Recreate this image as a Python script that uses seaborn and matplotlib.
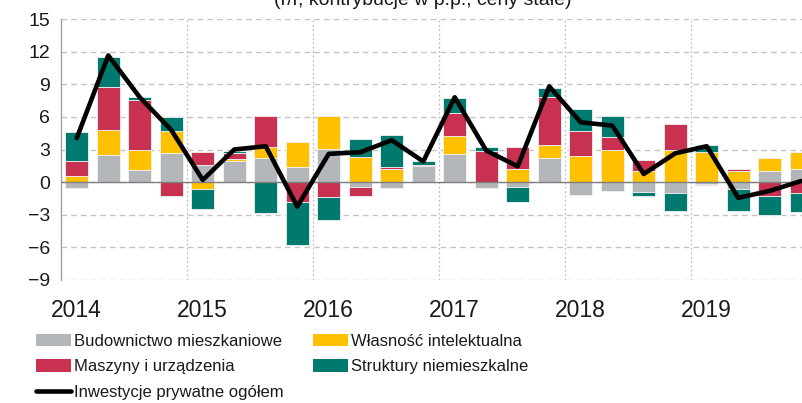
import numpy as np
import matplotlib
matplotlib.use('Agg')
import matplotlib.pyplot as plt
import seaborn as sns
from matplotlib.patches import Patch
from matplotlib.lines import Line2D
from matplotlib.font_manager import FontProperties

# --- Data ---
quarters = [f'{y}Q{q}' for y in range(2014, 2020) for q in range(1, 5)]
years = ['2014', '2015', '2016', '2017', '2018', '2019']

budownictwo = [-0.5, 2.45, 1.15, 2.65, 1.55, 1.95, 2.2, 1.4, 3.05, -0.45, -0.55, 1.45,
               2.6, -0.5, -0.45, 2.2, -1.15, -0.8, -0.95, -1.0, -0.2, -0.65, 1.0, 1.2]
wlasnosc = [0.6, 2.3, 1.8, 2.05, -0.65, 0.2, 1.05, 2.3, 3.05, 2.35, 1.2, 0.0,
            1.6, 0.0, 1.2, 1.2, 2.4, 3.0, 1.05, 2.95, 2.75, 1.0, 1.2, 1.6]
maszyny = [1.3, 4.0, 4.6, -1.3, 1.25, 0.5, 2.8, -1.8, -1.4, -0.8, 0.2, 0.12,
           2.2, 2.9, 2.05, 4.4, 2.3, 1.15, 1.0, 2.4, -0.05, 0.2, -1.25, -1.0]
struktury = [2.7, 2.8, 0.3, 1.3, -1.85, 0.25, -2.8, -4.0, -2.1, 1.6, 2.9, 0.4,
             1.3, 0.37, -1.4, 0.9, 2.0, 1.9, -0.3, -1.7, 0.7, -2.0, -1.8, -1.75]
ogolem = [4.05, 11.65, 7.8, 4.8, 0.2, 3.0, 3.3, -2.25, 2.6, 2.75, 3.85, 1.9,
          7.8, 2.9, 1.45, 8.8, 5.5, 5.2, 0.75, 2.65, 3.3, -1.45, -0.8, 0.1]

series = [
    ('Budownictwo mieszkaniowe', budownictwo, '#b3b7ba'),
    ('Własność intelektualna', wlasnosc, '#ffc000'),
    ('Maszyny i urządzenia', maszyny, '#c8314f'),
    ('Struktury niemieszkalne', struktury, '#007a6e'),
]
line_label = 'Inwestycje prywatne ogółem'

# --- Style ---
sns.set_style('white')
plt.rcParams['font.family'] = ['Liberation Sans', 'DejaVu Sans']
plt.rcParams['text.color'] = '#1a1a1a'

fig = plt.figure(figsize=(8.03, 4.03), dpi=100)
ax = fig.add_axes([61 / 803, 1 - 280 / 403, 756 / 803, 261 / 403])

x = np.arange(len(quarters))

# stacked bars, positives and negatives stacked separately
pos_base = np.zeros(len(x))
neg_base = np.zeros(len(x))
for name, vals, col in series:
    v = np.array(vals)
    bottom = np.where(v >= 0, pos_base, neg_base)
    ax.bar(x, v, bottom=bottom, width=0.73, color=col, edgecolor='#f2f2f2',
           linewidth=0.6, zorder=3)
    pos_base += np.where(v >= 0, v, 0)
    neg_base += np.where(v < 0, v, 0)

sns.lineplot(x=x, y=ogolem, color='black', linewidth=3.3, ax=ax, zorder=5)

# --- Axes ---
ax.set_xlim(-0.5, len(x) - 0.5)
ax.set_ylim(-9, 15)
ax.set_yticks(range(-9, 16, 3))
ax.set_xticks(x[::4])
ax.set_xticklabels(years)

ax.yaxis.grid(True, linestyle=(0, (4, 3)), color='#c4c4c4', linewidth=1.0, zorder=0)
ax.xaxis.grid(False)
for b in np.arange(3.5, len(x), 4):
    ax.axvline(b, color='#bdbdbd', linestyle=(0, (1.5, 2)), linewidth=0.9, zorder=1)
ax.axhline(0, color='#7f7f7f', linewidth=1.0, zorder=4)

for s in ['top', 'right', 'bottom']:
    ax.spines[s].set_visible(False)
ax.spines['left'].set_color('#a0a0a0')
ax.spines['left'].set_linewidth(1.0)

ax.tick_params(axis='y', direction='inout', length=8, color='#a0a0a0',
               labelsize=14, pad=4, labelcolor='#1a1a1a')
ax.tick_params(axis='x', length=0, labelsize=16.5, pad=14, labelcolor='#1a1a1a')

# subtitle, cut off at the top edge as in the reference
fig.text(423 / 803, 1 - 5 / 403, '(r/r, kontrybucje w p.p., ceny stałe)',
         ha='center', va='baseline', fontsize=14, color='#1a1a1a')

# --- Legend in two columns ---
leg_font = FontProperties(family=['Liberation Sans Narrow', 'Liberation Sans'], size=12)
h = {name: Patch(facecolor=col, edgecolor='none') for name, _, col in series}
line_handle = Line2D([0], [0], color='black', linewidth=3.3)

leg_kw = dict(loc='upper left', frameon=False, prop=leg_font, handlelength=2.1,
              handleheight=0.75, handletextpad=0.2, labelspacing=0.62,
              borderpad=0, borderaxespad=0)
left_names = ['Budownictwo mieszkaniowe', 'Maszyny i urządzenia']
fig.legend([h[n] for n in left_names] + [line_handle], left_names + [line_label],
           bbox_to_anchor=(36 / 803, 1 - 334 / 403), **leg_kw)
right_names = ['Własność intelektualna', 'Struktury niemieszkalne']
fig.legend([h[n] for n in right_names], right_names,
           bbox_to_anchor=(313 / 803, 1 - 334 / 403), **leg_kw)

fig.savefig('out.png', dpi=100)
